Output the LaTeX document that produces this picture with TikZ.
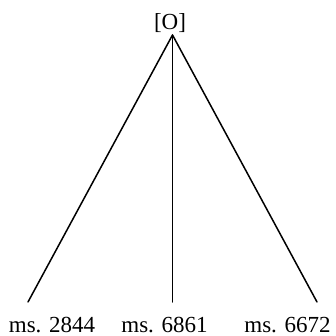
\documentclass[tikz,border=0pt]{standalone}
\usepackage{fontspec}
\setmainfont{Liberation Serif}
\begin{document}
\begin{tikzpicture}[x=1pt,y=-1pt,
  lbl/.style={inner sep=0pt,anchor=base,font=\fontsize{23}{27}\selectfont},
  branch/.style={line width=1.5pt,line cap=round}]
\useasboundingbox (0,0) rectangle (335,336);
% root label and the apex where the branches meet
\node[lbl] (root) at (170,30) {[O]};
\coordinate (apex) at (172.5,35);
% branch ends
\coordinate (e1) at (28,302);
\coordinate (e2) at (172.5,302);
\coordinate (e3) at (317,302);
% leaf labels
\node[lbl] (m1) at (52,332.5) {ms. 2844};
\node[lbl] (m2) at (164.5,332.5) {ms. 6861};
\node[lbl] (m3) at (287.5,332.5) {ms. 6672};
% branches
\draw[branch] (apex) -- (e1);
\draw[branch] (apex) -- (e2);
\draw[branch] (apex) -- (e3);
\end{tikzpicture}
\end{document}
